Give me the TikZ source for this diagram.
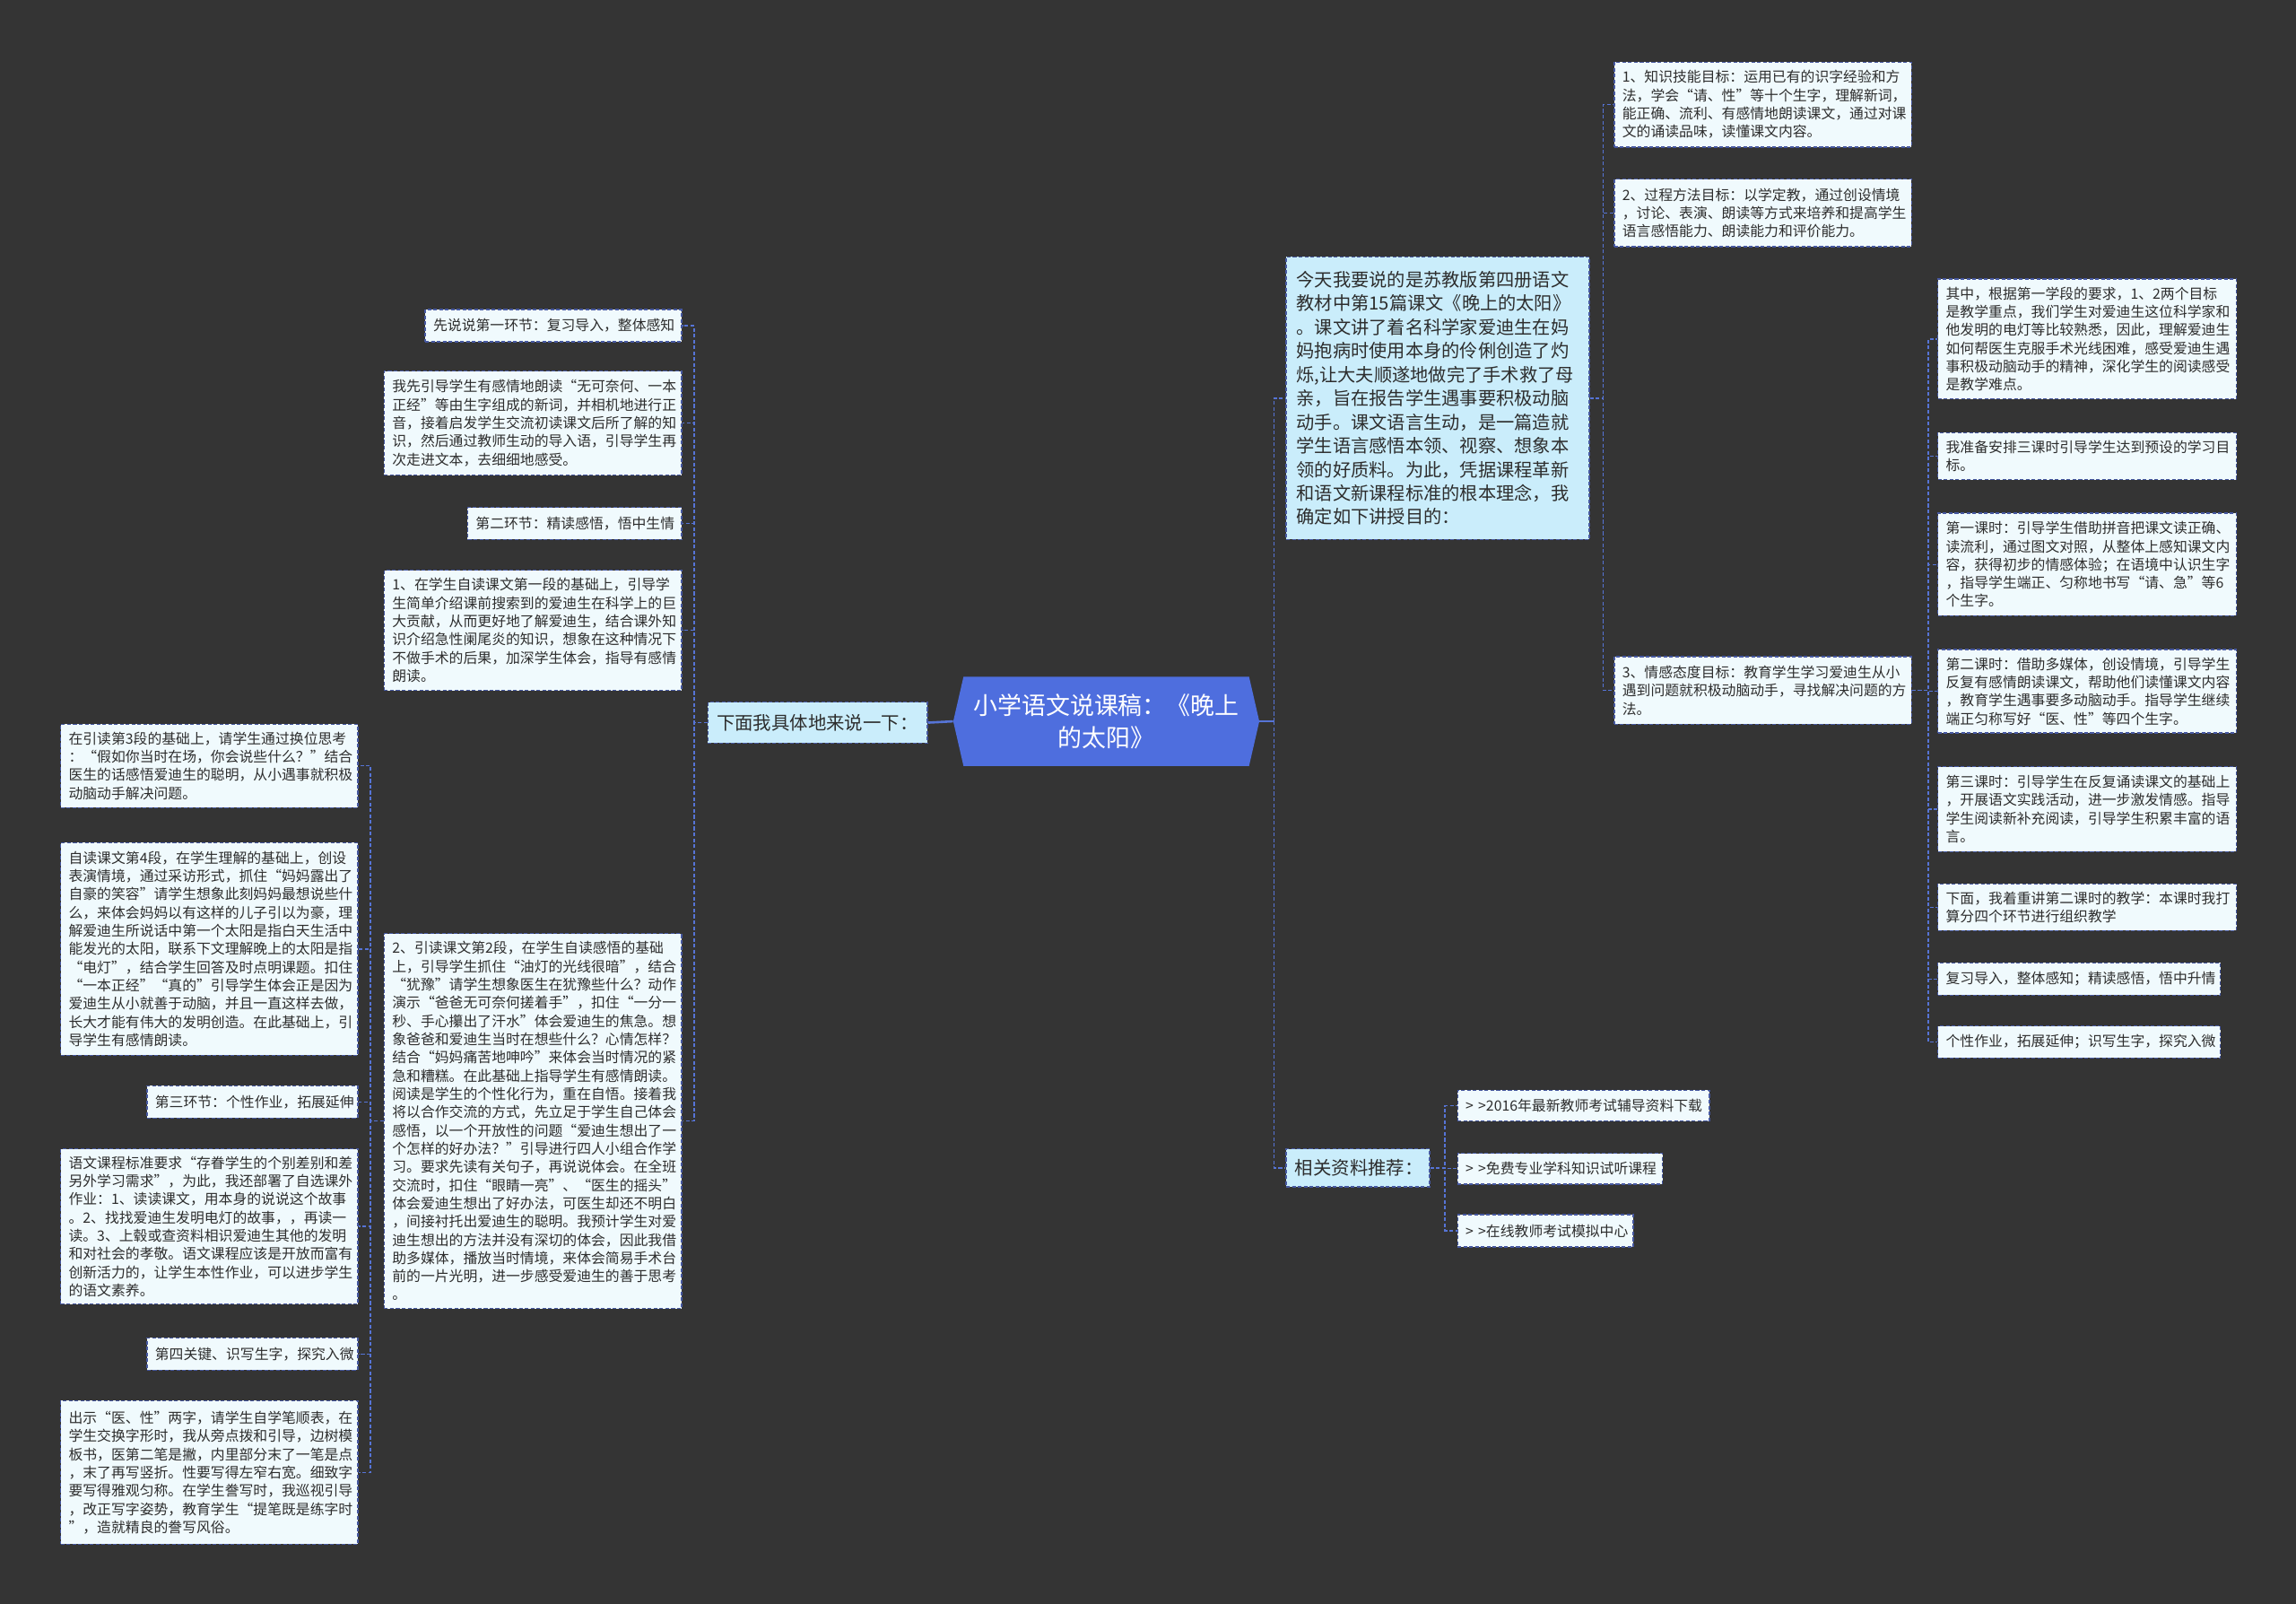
\documentclass[tikz,border=0pt]{standalone}
\usepackage{fontspec}
\setmainfont{Noto Sans CJK SC}
\definecolor{bg}{RGB}{52,52,52}
\definecolor{leaffill}{RGB}{240,250,253}
\definecolor{midfill}{RGB}{202,237,251}
\definecolor{leafdraw}{RGB}{70,88,160}
\definecolor{conncol}{RGB}{86,116,214}
\definecolor{rootblue}{RGB}{78,110,222}
\definecolor{txt}{RGB}{45,45,45}
\newcommand\leaffont{\fontsize{9.7pt}{12.45pt}\selectfont}
\newcommand\bigfont{\fontsize{12.4pt}{16.2pt}\selectfont}
\newcommand\midfont{\fontsize{12.5pt}{15pt}\selectfont}
\newcommand\rootfont{\fontsize{16.5pt}{22pt}\selectfont}
\newcommand\leafnode[7][leaf]{%
  \pgfmathsetmacro\lfW{#5-#3-11}%
  \pgfmathsetmacro\lfH{#6-#4}%
  \node[#1, text width=\lfW pt, minimum height=\lfH pt] (#2) at (#3,#4) {#7};}
\tikzset{
  leaf/.style={draw=leafdraw, dash pattern=on 2.5pt off 1.5pt, line width=0.8pt, fill=leaffill,
    inner xsep=5.5pt, inner ysep=0pt, anchor=north west, align=left, font=\leaffont, text=txt},
  midbox/.style={draw=leafdraw, dash pattern=on 2.5pt off 1.5pt, line width=0.8pt, fill=midfill,
    inner xsep=6pt, inner ysep=0pt, anchor=north west, align=left, font=\midfont, text=txt},
  conn/.style={draw=conncol, dash pattern=on 2.5pt off 1.5pt, line width=0.9pt},
  rootconn/.style={draw=conncol, line width=1.6pt},
}
\begin{document}
\begin{tikzpicture}[x=1pt,y=-1pt]
\useasboundingbox (0,0) rectangle (1568,1095);
\fill[bg] (0,0) rectangle (1568,1095);

% root
\fill[rootblue] (651,492.5) -- (658,462) -- (853,462) -- (860,492.5) -- (853,523) -- (658,523) -- cycle;
\node[minimum width=209pt, minimum height=61pt, inner sep=0pt, align=center, font=\rootfont, text=white] (root) at (755.5,492.5)
  {小学语文说课稿：《晚上\\的太阳》};

% level 1
\node[midbox, text width=138pt, minimum height=28pt] (L1) at (483,479) {下面我具体地来说一下：};
\node[midbox, text width=86pt, minimum height=26pt] (rel) at (878,784) {相关资料推荐：};
\node[draw=leafdraw, dash pattern=on 2.5pt off 1.5pt, line width=0.8pt, fill=midfill,
  inner xsep=7pt, inner ysep=0pt, anchor=north west, align=left, font=\bigfont, text=txt,
  text width=193pt, minimum height=193pt] (big) at (878,175)
{今天我要说的是苏教版第四册语文\\
教材中第15篇课文《晚上的太阳》\\
。课文讲了着名科学家爱迪生在妈\\
妈抱病时使用本身的伶俐创造了灼\\
烁,让大夫顺遂地做完了手术救了母\\
亲，旨在报告学生遇事要积极动脑\\
动手。课文语言生动，是一篇造就\\
学生语言感悟本领、视察、想象本\\
领的好质料。为此，凭据课程革新\\
和语文新课程标准的根本理念，我\\
确定如下讲授目的：};

% goals
\leafnode{g1}{1102}{42}{1305}{100}{1、知识技能目标：运用已有的识字经验和方\\
法，学会“请、性”等十个生字，理解新词，\\
能正确、流利、有感情地朗读课文，通过对课\\
文的诵读品味，读懂课文内容。}
\leafnode{g2}{1102}{122}{1305}{168}{2、过程方法目标：以学定教，通过创设情境\\
，讨论、表演、朗读等方式来培养和提高学生\\
语言感悟能力、朗读能力和评价能力。}
\leafnode{g3}{1102}{448}{1305}{494}{3、情感态度目标：教育学生学习爱迪生从小\\
遇到问题就积极动脑动手，寻找解决问题的方\\
法。}

% right column
\leafnode{ra}{1323}{190}{1527}{272}{其中，根据第一学段的要求，1、2两个目标\\
是教学重点，我们学生对爱迪生这位科学家和\\
他发明的电灯等比较熟悉，因此，理解爱迪生\\
如何帮医生克服手术光线困难，感受爱迪生遇\\
事积极动脑动手的精神，深化学生的阅读感受\\
是教学难点。}
\leafnode{rb}{1323}{295}{1527}{327}{我准备安排三课时引导学生达到预设的学习目\\
标。}
\leafnode{rc}{1323}{350}{1527}{420}{第一课时：引导学生借助拼音把课文读正确、\\
读流利，通过图文对照，从整体上感知课文内\\
容，获得初步的情感体验；在语境中认识生字\\
，指导学生端正、匀称地书写“请、急”等6\\
个生字。}
\leafnode{rd}{1323}{443}{1527}{500}{第二课时：借助多媒体，创设情境，引导学生\\
反复有感情朗读课文，帮助他们读懂课文内容\\
，教育学生遇事要多动脑动手。指导学生继续\\
端正匀称写好“医、性”等四个生字。}
\leafnode{re}{1323}{523}{1527}{581}{第三课时：引导学生在反复诵读课文的基础上\\
，开展语文实践活动，进一步激发情感。指导\\
学生阅读新补充阅读，引导学生积累丰富的语\\
言。}
\leafnode{rf}{1323}{603}{1527}{635}{下面，我着重讲第二课时的教学：本课时我打\\
算分四个环节进行组织教学}
\leafnode{rg}{1323}{657}{1516}{679}{复习导入，整体感知；精读感悟，悟中升情}
\leafnode{rh}{1323}{700}{1516}{722}{个性作业，拓展延伸；识写生字，探究入微}

% related
\leafnode{r1}{995}{744}{1167}{765}{\mbox{> >2016年最新教师考试辅导资料下载}}
\leafnode{r2}{995}{787}{1135}{808}{\mbox{> >免费专业学科知识试听课程}}
\leafnode{r3}{995}{829}{1115}{851}{\mbox{> >在线教师考试模拟中心}}

% left column
\leafnode{a1}{290}{211}{465}{233}{先说说第一环节：复习导入，整体感知}
\leafnode{a2}{262}{253}{465}{324}{我先引导学生有感情地朗读“无可奈何、一本\\
正经”等由生字组成的新词，并相机地进行正\\
音，接着启发学生交流初读课文后所了解的知\\
识，然后通过教师生动的导入语，引导学生再\\
次走进文本，去细细地感受。}
\leafnode{a3}{319}{346}{465}{368}{第二环节：精读感悟，悟中生情}
\leafnode{a4}{262}{389}{465}{471}{1、在学生自读课文第一段的基础上，引导学\\
生简单介绍课前搜索到的爱迪生在科学上的巨\\
大贡献，从而更好地了解爱迪生，结合课外知\\
识介绍急性阑尾炎的知识，想象在这种情况下\\
不做手术的后果，加深学生体会，指导有感情\\
朗读。}
\leafnode{a5}{262}{637}{465}{893}{2、引读课文第2段，在学生自读感悟的基础\\
上，引导学生抓住“油灯的光线很暗”，结合\\
“犹豫”请学生想象医生在犹豫些什么？动作\\
演示“爸爸无可奈何搓着手”，扣住“一分一\\
秒、手心攥出了汗水”体会爱迪生的焦急。想\\
象爸爸和爱迪生当时在想些什么？心情怎样？\\
结合“妈妈痛苦地呻吟”来体会当时情况的紧\\
急和糟糕。在此基础上指导学生有感情朗读。\\
阅读是学生的个性化行为，重在自悟。接着我\\
将以合作交流的方式，先立足于学生自己体会\\
感悟，以一个开放性的问题“爱迪生想出了一\\
个怎样的好办法？”引导进行四人小组合作学\\
习。要求先读有关句子，再说说体会。在全班\\
交流时，扣住“眼睛一亮”、“医生的摇头”\\
体会爱迪生想出了好办法，可医生却还不明白\\
，间接衬托出爱迪生的聪明。我预计学生对爱\\
迪生想出的方法并没有深切的体会，因此我借\\
助多媒体，播放当时情境，来体会简易手术台\\
前的一片光明，进一步感受爱迪生的善于思考\\
。}

% far left column
\leafnode{b1}{41}{494}{244}{551}{在引读第3段的基础上，请学生通过换位思考\\
：“假如你当时在场，你会说些什么？”结合\\
医生的话感悟爱迪生的聪明，从小遇事就积极\\
动脑动手解决问题。}
\leafnode{b2}{41}{575}{244}{720}{自读课文第4段，在学生理解的基础上，创设\\
表演情境，通过采访形式，抓住“妈妈露出了\\
自豪的笑容”请学生想象此刻妈妈最想说些什\\
么，来体会妈妈以有这样的儿子引以为豪，理\\
解爱迪生所说话中第一个太阳是指白天生活中\\
能发光的太阳，联系下文理解晚上的太阳是指\\
“电灯”，结合学生回答及时点明课题。扣住\\
“一本正经”“真的”引导学生体会正是因为\\
爱迪生从小就善于动脑，并且一直这样去做，\\
长大才能有伟大的发明创造。在此基础上，引\\
导学生有感情朗读。}
\leafnode{b3}{100}{741}{244}{763}{第三环节：个性作业，拓展延伸}
\leafnode{b4}{41}{784}{244}{890}{语文课程标准要求“存眷学生的个别差别和差\\
另外学习需求”，为此，我还部署了自选课外\\
作业：1、读读课文，用本身的说说这个故事\\
。2、找找爱迪生发明电灯的故事，，再读一\\
读。3、上毂或查资料相识爱迪生其他的发明\\
和对社会的孝敬。语文课程应该是开放而富有\\
创新活力的，让学生本性作业，可以进步学生\\
的语文素养。}
\leafnode{b5}{100}{913}{244}{935}{第四关键、识写生字，探究入微}
\leafnode{b6}{41}{956}{244}{1054}{出示“医、性”两字，请学生自学笔顺表，在\\
学生交换字形时，我从旁点拨和引导，边树模\\
板书，医第二笔是撇，内里部分末了一笔是点\\
，末了再写竖折。性要写得左窄右宽。细致字\\
要写得雅观匀称。在学生誊写时，我巡视引导\\
，改正写字姿势，教育学生“提笔既是练字时\\
”，造就精良的誊写风俗。}

% connectors
\coordinate (rs) at (870,492.5);
\draw[rootconn] (root.west) -- (L1.east);
\draw[rootconn] (root.east) -- (rs);
\draw[conn] (rs) |- (big.west);
\draw[conn] (rs) |- (rel.west);

\foreach \c in {g1,g2,g3} \draw[conn] (big.east) -- ++(9,0) |- (\c.west);
\foreach \c in {ra,rb,rc,rd,re,rf,rg,rh} \draw[conn] (g3.east) -- ++(11,0) |- (\c.west);
\foreach \c in {r1,r2,r3} \draw[conn] (rel.east) -- ++(10,0) |- (\c.west);
\foreach \c in {a1,a2,a3,a4,a5} \draw[conn] (L1.west) -- ++(-9,0) |- (\c.east);
\foreach \c in {b1,b2,b3,b4,b5,b6} \draw[conn] (a5.west) -- ++(-9,0) |- (\c.east);
\end{tikzpicture}
\end{document}
